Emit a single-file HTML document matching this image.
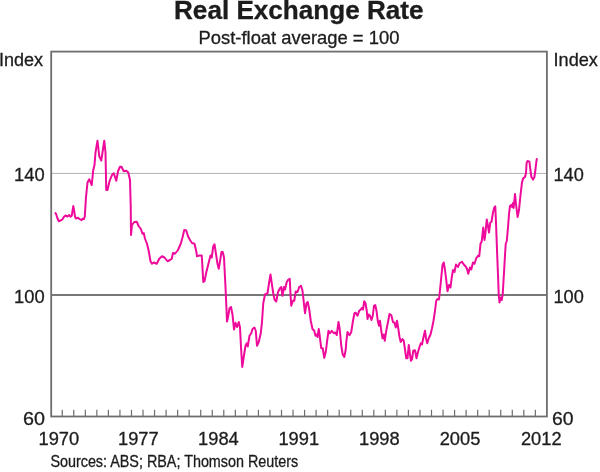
<!DOCTYPE html>
<html><head><meta charset="utf-8"><title>Real Exchange Rate</title>
<style>
html,body{margin:0;padding:0;background:#fff;}
body{width:600px;height:472px;overflow:hidden;font-family:"Liberation Sans",sans-serif;}
svg{display:block;}
text{font-family:"Liberation Sans",sans-serif;fill:#1c1c1c;stroke:#1c1c1c;stroke-width:0.3px;}
svg{will-change:transform;}
</style></head><body>
<svg width="600" height="472" viewBox="0 0 600 472">
<rect width="600" height="472" fill="#ffffff"/>
<line x1="51.2" y1="173.4" x2="546.9" y2="173.4" stroke="#b2b2b2" stroke-width="1"/>
<line x1="51.2" y1="295" x2="546.9" y2="295" stroke="#787878" stroke-width="1.8"/>
<g stroke="#6e6e6e" stroke-width="1.2"><line x1="62.24" y1="409.80" x2="62.24" y2="416.5"/><line x1="73.78" y1="409.80" x2="73.78" y2="416.5"/><line x1="85.32" y1="409.80" x2="85.32" y2="416.5"/><line x1="96.86" y1="409.80" x2="96.86" y2="416.5"/><line x1="108.40" y1="409.80" x2="108.40" y2="416.5"/><line x1="119.94" y1="409.80" x2="119.94" y2="416.5"/><line x1="131.48" y1="409.80" x2="131.48" y2="416.5"/><line x1="143.02" y1="409.80" x2="143.02" y2="416.5"/><line x1="154.56" y1="409.80" x2="154.56" y2="416.5"/><line x1="166.10" y1="409.80" x2="166.10" y2="416.5"/><line x1="177.63" y1="409.80" x2="177.63" y2="416.5"/><line x1="189.17" y1="409.80" x2="189.17" y2="416.5"/><line x1="200.71" y1="409.80" x2="200.71" y2="416.5"/><line x1="212.25" y1="409.80" x2="212.25" y2="416.5"/><line x1="223.79" y1="409.80" x2="223.79" y2="416.5"/><line x1="235.33" y1="409.80" x2="235.33" y2="416.5"/><line x1="246.87" y1="409.80" x2="246.87" y2="416.5"/><line x1="258.41" y1="409.80" x2="258.41" y2="416.5"/><line x1="269.95" y1="409.80" x2="269.95" y2="416.5"/><line x1="281.49" y1="409.80" x2="281.49" y2="416.5"/><line x1="293.03" y1="409.80" x2="293.03" y2="416.5"/><line x1="304.57" y1="409.80" x2="304.57" y2="416.5"/><line x1="316.11" y1="409.80" x2="316.11" y2="416.5"/><line x1="327.65" y1="409.80" x2="327.65" y2="416.5"/><line x1="339.19" y1="409.80" x2="339.19" y2="416.5"/><line x1="350.73" y1="409.80" x2="350.73" y2="416.5"/><line x1="362.27" y1="409.80" x2="362.27" y2="416.5"/><line x1="373.81" y1="409.80" x2="373.81" y2="416.5"/><line x1="385.35" y1="409.80" x2="385.35" y2="416.5"/><line x1="396.89" y1="409.80" x2="396.89" y2="416.5"/><line x1="408.43" y1="409.80" x2="408.43" y2="416.5"/><line x1="419.97" y1="409.80" x2="419.97" y2="416.5"/><line x1="431.50" y1="409.80" x2="431.50" y2="416.5"/><line x1="443.04" y1="409.80" x2="443.04" y2="416.5"/><line x1="454.58" y1="409.80" x2="454.58" y2="416.5"/><line x1="466.12" y1="409.80" x2="466.12" y2="416.5"/><line x1="477.66" y1="409.80" x2="477.66" y2="416.5"/><line x1="489.20" y1="409.80" x2="489.20" y2="416.5"/><line x1="500.74" y1="409.80" x2="500.74" y2="416.5"/><line x1="512.28" y1="409.80" x2="512.28" y2="416.5"/><line x1="523.82" y1="409.80" x2="523.82" y2="416.5"/><line x1="535.36" y1="409.80" x2="535.36" y2="416.5"/></g>
<rect x="51.2" y="51.6" width="495.70" height="364.90" fill="none" stroke="#6e6e6e" stroke-width="1.8"/>
<polyline fill="none" stroke="#ee0a9b" stroke-width="2" stroke-linejoin="round" stroke-linecap="round" points="55.30,213.10 56.00,213.80 57.20,217.50 58.70,221.20 60.50,220.50 62.50,219.30 64.00,216.80 65.50,215.50 67.50,216.50 69.30,215.00 70.50,216.80 71.80,215.50 72.50,211.00 73.30,206.10 74.20,211.00 75.00,216.50 76.00,218.50 78.00,217.80 79.50,219.00 81.50,220.20 82.50,218.80 84.00,219.00 84.80,216.50 85.30,208.00 86.00,197.00 87.50,182.50 89.25,179.25 91.75,185.00 93.25,170.00 94.50,165.00 95.50,152.50 97.50,140.75 99.25,156.25 101.25,160.50 102.50,152.50 104.25,140.75 105.50,152.50 106.25,190.00 107.50,190.00 109.50,181.25 112.00,175.00 113.75,173.25 116.25,180.75 118.00,171.25 120.00,166.75 121.50,166.75 123.75,171.25 126.25,170.75 128.25,172.50 130.00,180.00 130.75,207.50 131.00,235.00 132.00,225.00 134.25,222.00 136.75,221.75 138.75,226.25 140.75,228.75 142.50,233.75 143.75,233.00 145.00,238.75 147.00,243.75 148.75,251.25 150.50,261.25 152.00,263.75 153.75,262.50 156.75,263.75 159.25,258.75 162.00,256.25 164.50,257.50 167.50,261.25 170.00,260.00 171.75,258.75 173.00,253.00 175.00,253.75 178.00,250.00 180.75,243.75 182.50,237.50 184.25,230.00 186.25,230.50 188.00,236.25 190.00,240.00 192.00,243.00 194.50,243.75 196.25,251.25 197.00,256.25 199.50,255.50 201.75,255.50 202.75,272.50 203.25,282.00 204.50,281.25 206.25,272.50 208.75,262.50 210.50,255.50 211.75,257.50 213.25,246.25 214.50,244.25 215.75,252.50 217.50,263.75 218.75,268.75 220.00,261.25 221.50,252.00 222.75,252.00 224.00,257.50 225.00,277.50 225.50,287.00 226.50,309.50 227.00,321.50 228.25,315.75 229.50,308.25 231.00,307.00 232.50,314.50 234.00,329.50 235.50,322.75 237.00,327.00 238.75,322.00 240.00,327.50 241.00,347.00 242.25,367.00 243.75,357.00 245.50,345.75 246.75,343.25 247.75,346.50 249.50,335.75 251.25,333.25 252.50,329.00 254.50,327.50 255.75,330.75 257.00,345.75 258.75,342.00 260.75,333.25 262.00,322.00 263.25,303.25 265.00,294.50 267.50,293.25 269.00,283.25 270.50,274.50 271.75,283.25 273.25,293.25 274.50,299.50 276.25,301.50 278.00,292.00 280.00,288.25 281.25,287.00 282.50,295.75 284.00,287.00 285.00,289.50 286.75,282.00 288.00,280.00 289.75,278.75 290.50,294.50 291.25,305.75 293.00,300.75 294.25,300.75 295.75,291.50 297.50,292.00 299.25,287.00 301.00,285.75 302.50,290.75 303.75,302.00 305.00,313.25 306.50,303.25 307.75,302.00 309.25,309.50 310.75,320.75 312.50,329.00 314.25,330.75 315.50,335.75 316.75,334.50 317.50,337.00 318.75,329.00 320.00,338.25 321.25,348.25 322.75,348.25 324.25,357.75 325.75,352.00 327.00,342.00 328.50,330.75 330.00,333.25 331.75,330.75 333.75,333.25 335.50,332.50 336.75,335.00 338.50,322.00 339.75,329.50 341.25,345.75 342.75,354.50 344.25,357.00 345.75,349.50 346.25,342.00 347.50,332.00 349.50,335.25 351.25,332.00 353.00,320.75 354.50,313.25 355.75,312.75 357.50,315.75 359.25,310.75 360.75,309.50 362.00,307.75 363.00,309.50 364.25,301.25 365.50,303.25 366.75,310.75 367.50,319.00 368.75,314.50 370.00,315.75 371.50,320.00 372.75,315.75 374.00,305.75 375.25,305.00 376.50,310.75 377.75,320.75 379.00,325.75 380.00,320.75 381.25,330.75 382.50,338.25 383.75,334.50 384.75,340.75 386.25,330.75 388.00,322.00 389.50,314.00 391.25,315.00 393.00,322.00 394.50,322.75 395.75,327.50 397.00,320.75 398.25,328.25 399.50,337.00 400.75,342.00 402.50,339.00 403.75,340.75 405.00,349.50 406.25,358.25 407.50,358.25 408.75,345.00 410.00,354.50 411.00,360.75 412.00,359.50 413.25,350.75 415.00,350.25 416.50,358.25 418.00,352.00 419.50,347.00 420.75,343.25 422.00,344.50 423.50,337.00 425.00,330.75 426.00,338.25 427.25,343.25 428.75,338.25 430.50,334.50 432.00,328.25 433.50,320.75 435.00,310.75 436.25,300.75 437.50,299.00 439.00,299.50 440.00,290.00 441.25,277.50 442.50,265.00 443.75,262.50 445.00,270.00 446.25,280.00 447.50,291.25 449.00,285.00 450.50,287.50 451.75,277.50 453.00,270.00 454.50,272.00 456.00,264.50 458.00,267.00 459.50,263.25 462.00,261.75 463.75,264.50 465.50,266.25 467.00,268.75 468.25,273.75 470.00,267.50 471.25,269.50 473.00,262.50 474.50,263.75 476.25,258.25 478.00,255.75 479.25,256.25 480.50,243.75 481.75,241.25 483.25,227.50 484.50,240.00 485.50,232.50 486.75,219.50 488.00,226.25 489.00,232.50 490.25,222.50 491.50,221.75 493.00,212.50 494.25,207.50 495.25,206.25 496.00,222.50 497.00,250.00 498.00,275.00 498.75,295.00 499.50,302.50 500.75,297.50 501.75,300.00 502.75,293.75 504.00,272.50 505.00,255.00 505.75,243.75 506.75,241.25 508.00,227.50 509.00,214.00 510.00,206.00 511.20,205.00 512.00,207.00 513.00,203.00 513.60,208.00 515.00,194.00 516.00,204.00 517.60,217.00 519.00,210.00 520.40,196.00 522.00,182.40 523.20,178.40 525.00,177.00 526.00,173.00 526.60,163.00 527.60,161.00 529.40,161.60 530.40,170.00 531.40,177.00 533.00,179.60 534.40,177.00 535.40,170.00 536.20,163.00 536.80,159.00"/>
<text transform="translate(174.01,18.75) scale(1.0449,1)" font-size="25" font-weight="bold">Real Exchange Rate</text>
<text transform="translate(198.55,43.70) scale(1.0516,1)" font-size="17.5" font-weight="normal">Post-float average = 100</text>
<text transform="translate(-1.00,66.00) scale(1.0024,1)" font-size="18" font-weight="normal">Index</text>
<text transform="translate(553.59,66.00) scale(1.0071,1)" font-size="18" font-weight="normal">Index</text>
<text transform="translate(14.03,181.00) scale(0.9667,1)" font-size="19" font-weight="normal">140</text>
<text transform="translate(14.03,303.00) scale(0.9667,1)" font-size="19" font-weight="normal">100</text>
<text transform="translate(22.96,424.75) scale(1.0395,1)" font-size="19" font-weight="normal">60</text>
<text transform="translate(553.44,181.00) scale(0.9567,1)" font-size="19" font-weight="normal">140</text>
<text transform="translate(553.44,303.00) scale(0.9567,1)" font-size="19" font-weight="normal">100</text>
<text transform="translate(552.08,424.75) scale(1.0211,1)" font-size="19" font-weight="normal">60</text>
<text transform="translate(50.40,467.30) scale(0.8980,1)" font-size="16" font-weight="normal">Sources: ABS; RBA; Thomson Reuters</text>
<text transform="translate(38.50,445.00) scale(1.0000,1)" font-size="18.3" font-weight="normal">1970</text>
<text transform="translate(118.00,445.00) scale(1.0000,1)" font-size="18.3" font-weight="normal">1977</text>
<text transform="translate(198.10,445.00) scale(1.0000,1)" font-size="18.3" font-weight="normal">1984</text>
<text transform="translate(278.40,445.00) scale(1.0000,1)" font-size="18.3" font-weight="normal">1991</text>
<text transform="translate(359.00,445.00) scale(1.0000,1)" font-size="18.3" font-weight="normal">1998</text>
<text transform="translate(439.70,445.00) scale(1.0000,1)" font-size="18.3" font-weight="normal">2005</text>
<text transform="translate(520.90,445.00) scale(1.0000,1)" font-size="18.3" font-weight="normal">2012</text>
</svg>
</body></html>
